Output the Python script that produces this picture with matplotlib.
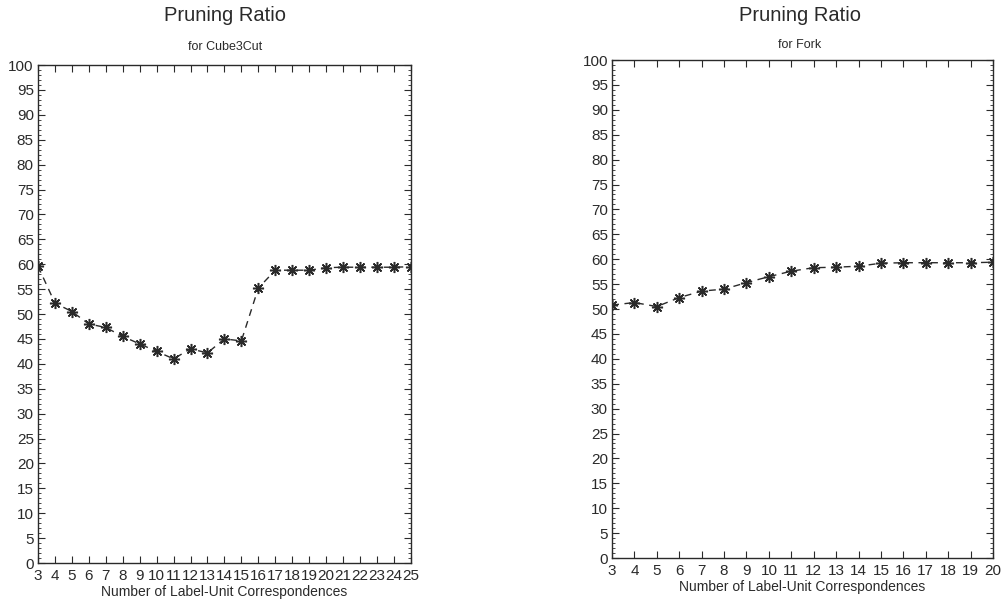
import matplotlib
matplotlib.use("Agg")
import matplotlib.pyplot as plt
from matplotlib.ticker import MultipleLocator

plt.rcParams['font.family'] = ['Liberation Sans', 'DejaVu Sans']

# Cube3Cut
cube_x = list(range(3, 26))
cube_y = [59.6, 52.2, 50.5, 48.0, 47.3, 45.5, 44.0, 42.5, 41.0, 43.0, 42.2, 45.0, 44.6,
          55.2, 58.8, 58.8, 58.8, 59.3, 59.4, 59.4, 59.4, 59.4, 59.5]

# Fork
fork_x = list(range(3, 21))
fork_y = [50.8, 51.3, 50.5, 52.3, 53.6, 54.0, 55.3, 56.5, 57.6, 58.3, 58.4, 58.6,
          59.2, 59.3, 59.3, 59.3, 59.3, 59.4]

ink = '#2a2a2a'

fig = plt.figure(figsize=(10.05, 6.01), dpi=100)
ax1 = fig.add_axes([0.0378, 0.0632, 0.371, 0.8286])
ax2 = fig.add_axes([0.609, 0.0715, 0.379, 0.8286])


def style(ax, x, y, name, cx, ty, sy):
    ax.plot(x, y, linestyle=(0, (5, 4)), color=ink, lw=1.0,
            marker=(8, 2, 0), markersize=8, markeredgewidth=1.1)
    ax.set_xlim(x[0], x[-1])
    ax.set_ylim(0, 100)
    ax.set_xticks(x)
    ax.yaxis.set_major_locator(MultipleLocator(5))
    ax.yaxis.set_minor_locator(MultipleLocator(1))
    ax.tick_params(axis='both', which='major', direction='in', top=True, right=True,
                   length=5, width=0.8, color=ink, labelsize=11, labelcolor=ink, pad=3)
    ax.tick_params(axis='x', which='major', pad=4)
    ax.tick_params(axis='y', which='minor', direction='in', left=True, right=True,
                   length=2.5, width=0.6, color=ink)
    for s in ax.spines.values():
        s.set_color(ink)
        s.set_linewidth(1.0)
    ax.set_xlabel('Number of Label-Unit Correspondences', fontsize=10, color=ink, labelpad=2)
    fig.text(cx, ty, 'Pruning Ratio', ha='center', va='center', fontsize=14.5, color=ink)
    fig.text(cx, sy, name, ha='center', va='center', fontsize=9, color=ink)


style(ax1, cube_x, cube_y, 'for Cube3Cut', 0.224, 0.975, 0.922)
style(ax2, fork_x, fork_y, 'for Fork', 0.796, 0.975, 0.925)

fig.savefig('out.png', dpi=100)
